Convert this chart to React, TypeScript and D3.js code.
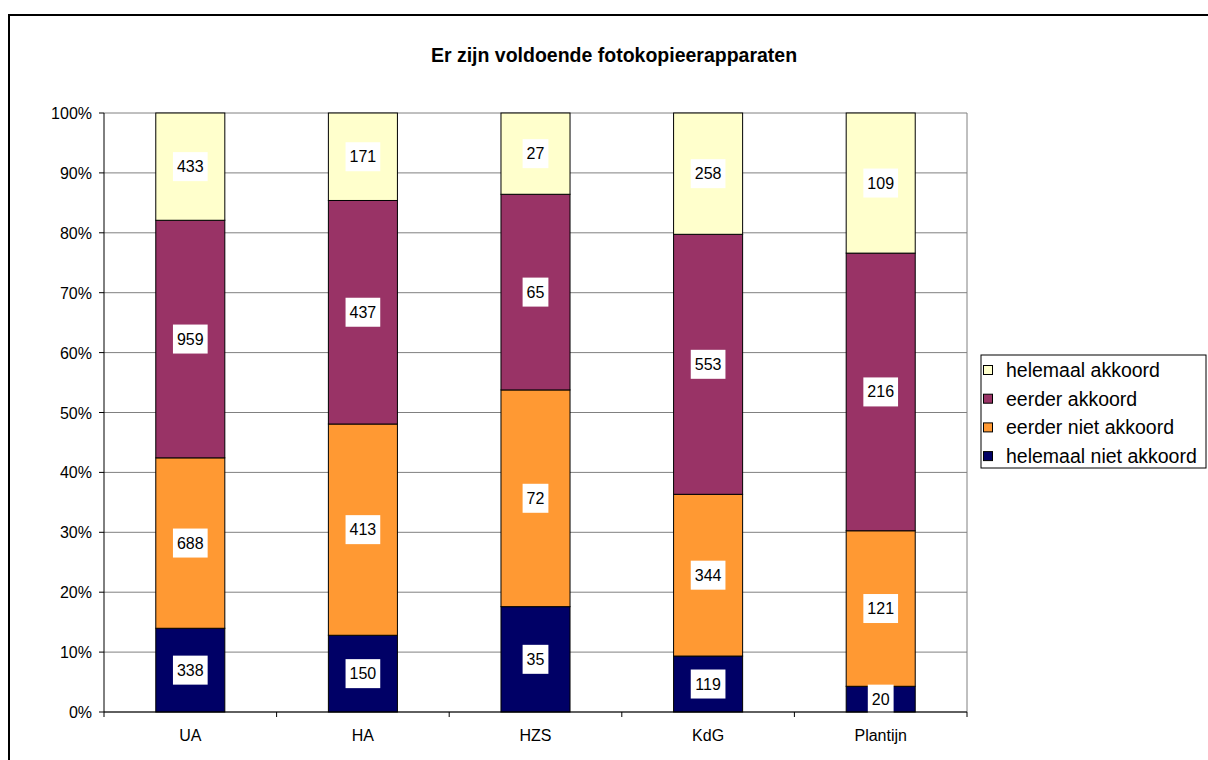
import * as d3 from 'd3'

const categories = ['UA', 'HA', 'HZS', 'KdG', 'Plantijn']
const seriesNames = ['helemaal niet akkoord', 'eerder niet akkoord', 'eerder akkoord', 'helemaal akkoord']
const helemaalNiet = [338, 150, 35, 119, 20]
const eerderNiet = [688, 413, 72, 344, 121]
const eerderAkkoord = [959, 437, 65, 553, 216]
const helemaalAkkoord = [433, 171, 27, 258, 109]
const colors = ['#000066', '#FF9933', '#993366', '#FFFFCC']
const yTicks = [0, 0.1, 0.2, 0.3, 0.4, 0.5, 0.6, 0.7, 0.8, 0.9, 1]

const W = 1208
const H = 760
const margin = { left: 104, right: 241, top: 113, bottom: 48 }
const font = 'Arial, "Liberation Sans", sans-serif'

export default function App() {
  const values = [helemaalNiet, eerderNiet, eerderAkkoord, helemaalAkkoord]
  const rows = categories.map((c, i) => {
    const row: Record<string, number | string> = { cat: c }
    seriesNames.forEach((s, k) => (row[s] = values[k][i]))
    return row
  })
  const stacked = d3.stack<any>().keys(seriesNames).offset(d3.stackOffsetExpand)(rows)

  const x = d3.scaleBand().domain(categories).range([margin.left, W - margin.right]).paddingInner(0).paddingOuter(0)
  const y = d3.scaleLinear().domain([0, 1]).range([H - margin.bottom, margin.top])
  const bw = x.bandwidth() * 0.4
  const fmt = d3.format('.0%')

  const legendOrder = [...seriesNames].reverse()

  return (
    <svg width={W} height={H} style={{ position: 'absolute', left: 0, top: 0 }} fontFamily={font}>
      <rect x={0} y={0} width={W} height={H} fill="#fff" />
      <rect x={9} y={15} width={W + 20} height={H + 20} fill="none" stroke="#000" strokeWidth={2} />
      <text x={614} y={62} textAnchor="middle" fontSize={19.5} fontWeight="bold">
        Er zijn voldoende fotokopieerapparaten
      </text>

      {/* gridlines */}
      {yTicks.map((t) => (
        <line key={t} x1={margin.left} x2={W - margin.right} y1={y(t)} y2={y(t)} stroke="#808080" strokeWidth={1} />
      ))}
      <line x1={W - margin.right} x2={W - margin.right} y1={y(1)} y2={y(0)} stroke="#808080" />

      {/* bars */}
      {stacked.map((s, k) =>
        s.map((d, i) => {
          const cx = (x(categories[i]) as number) + x.bandwidth() / 2
          return (
            <rect key={`${k}-${i}`} x={cx - bw / 2} y={y(d[1])} width={bw} height={y(d[0]) - y(d[1])}
              fill={colors[k]} stroke="#000" strokeWidth={1} />
          )
        })
      )}

      {/* data labels */}
      {stacked.map((s, k) =>
        s.map((d, i) => {
          const cx = (x(categories[i]) as number) + x.bandwidth() / 2
          const cy = (y(d[0]) + y(d[1])) / 2
          const txt = String(values[k][i])
          const tw = txt.length * 8.9 + 8
          return (
            <g key={`l${k}-${i}`}>
              <rect x={cx - tw / 2} y={cy - 14.5} width={tw} height={29} fill="#fff" />
              <text x={cx} y={cy + 5.5} textAnchor="middle" fontSize={16}>{txt}</text>
            </g>
          )
        })
      )}

      {/* axes */}
      <line x1={margin.left} x2={margin.left} y1={y(1)} y2={y(0)} stroke="#000" />
      <line x1={margin.left} x2={W - margin.right} y1={y(0)} y2={y(0)} stroke="#000" />
      {yTicks.map((t) => (
        <g key={`yt${t}`}>
          <line x1={margin.left - 5} x2={margin.left} y1={y(t)} y2={y(t)} stroke="#000" />
          <text x={margin.left - 12} y={y(t) + 6} textAnchor="end" fontSize={16}>{fmt(t)}</text>
        </g>
      ))}
      {categories.map((c, i) => (
        <g key={`xt${c}`}>
          <line x1={x(c) as number} x2={x(c) as number} y1={y(0)} y2={y(0) + 5} stroke="#000" />
          {i === categories.length - 1 && (
            <line x1={W - margin.right} x2={W - margin.right} y1={y(0)} y2={y(0) + 5} stroke="#000" />
          )}
          <text x={(x(c) as number) + x.bandwidth() / 2} y={741} textAnchor="middle" fontSize={16}>{c}</text>
        </g>
      ))}

      {/* legend */}
      <rect x={981} y={355} width={225} height={113} fill="#fff" stroke="#000" />
      {legendOrder.map((s, j) => {
        const k = seriesNames.indexOf(s)
        const ly = 370 + j * 28.7
        return (
          <g key={s}>
            <rect x={983.5} y={ly - 4.5} width={9} height={9} fill={colors[k]} stroke="#000" />
            <text x={1006} y={ly + 7} fontSize={19.5}>{s}</text>
          </g>
        )
      })}
    </svg>
  )
}
